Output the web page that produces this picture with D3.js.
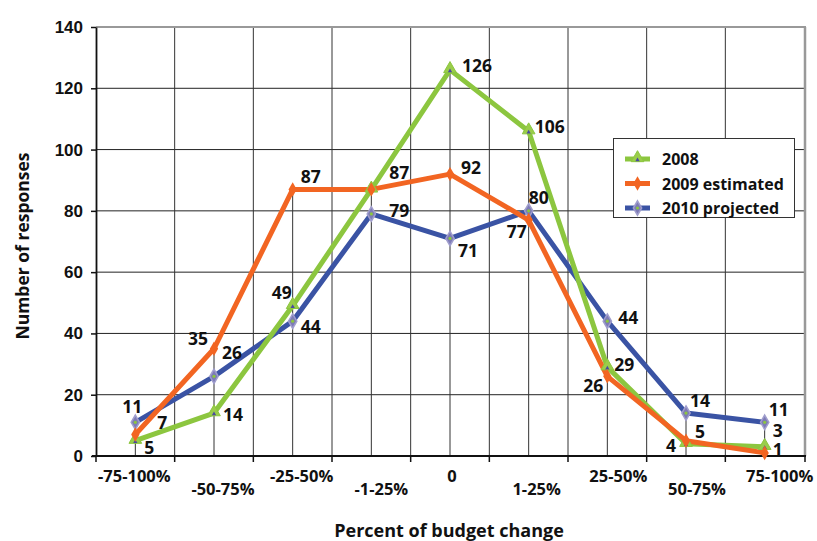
<!DOCTYPE html>
<html>
<head>
<meta charset="utf-8">
<script src="https://cdn.jsdelivr.net/npm/d3@7"></script>
<style>
  body { margin: 0; background: #fff; }
  svg { display: block; font-family: "Open Sans", "DejaVu Sans", sans-serif; }
</style>
</head>
<body>
<svg></svg>
<script>
// values
let categories = ['-75-100%', '-50-75%', '-25-50%', '-1-25%', '0', '1-25%', '25-50%', '50-75%', '75-100%']
let values2008 = [5, 14, 49, 87, 126, 106, 29, 4, 3]
let values2009 = [7, 35, 87, 87, 92, 77, 26, 5, 1]
let values2010 = [11, 26, 44, 79, 71, 80, 44, 14, 11]
let seriesNames = ['2008', '2009 estimated', '2010 projected']
let yTicks = [0, 20, 40, 60, 80, 100, 120, 140]

let width = 817
let height = 541
let plotLeft = 96
let plotRight = 805
let plotTop = 27
let plotBottom = 456

// label placement (dx, dy from the point, anchor) - layout only
let labelPos2008 = [[9, 13, 'start'], [9, 8, 'start'], [-1, -7, 'end'], [18, -10, 'start'], [12, 2, 'start'], [6, 2, 'start'], [7, 4, 'start'], [-10, 8, 'end'], [8, -10, 'start']]
let labelPos2009 = [[22, -6, 'start'], [-6, -4, 'end'], [8, -6, 'start'], null, [11, 0, 'start'], [-2, 18, 'end'], [-4, 16, 'end'], [9, -3, 'start'], [8, 3, 'start']]
let labelPos2010 = [[-3, -9, 'middle'], [8, -17, 'start'], [8, 12, 'start'], [18, 3, 'start'], [8, 19, 'start'], [0, -7, 'start'], [11, 3, 'start'], [4, -6, 'start'], [4, -6, 'start']]
let tickShift = [-1, 9, 9, 10, 2, 8, 11, 11, 15]

let svg = d3.select('svg').attr('width', width).attr('height', height)

let xScale = d3.scaleBand().domain(categories).range([plotLeft, plotRight - 1]).padding(0)
let yScale = d3.scaleLinear().domain([0, 140]).range([plotBottom, plotTop])
let xc = (c) => xScale(c) + xScale.bandwidth() / 2

let series = [
  { name: seriesNames[0], values: values2008, color: '#8cc63f', marker: 'triangle', labels: labelPos2008 },
  { name: seriesNames[1], values: values2009, color: '#f26522', marker: 'diamond', labels: labelPos2009 },
  { name: seriesNames[2], values: values2010, color: '#3a53a4', marker: 'diamondBlue', labels: labelPos2010 }
]

let drawGrid = () => {
  let g = svg.append('g')
  g.selectAll('line.h')
    .data(yTicks.filter(d => d > 0 && d < 140))
    .enter().append('line')
    .attr('x1', plotLeft).attr('x2', plotRight)
    .attr('y1', d => yScale(d)).attr('y2', d => yScale(d))
    .attr('stroke', '#222').attr('stroke-width', 1)

  let edges = categories.map(c => xScale(c)).slice(1)
  g.selectAll('line.v')
    .data(edges)
    .enter().append('line')
    .attr('x1', d => d).attr('x2', d => d)
    .attr('y1', plotTop).attr('y2', plotBottom)
    .attr('stroke', '#333').attr('stroke-width', 1)

  // drop lines from the highest point of each category
  g.selectAll('line.drop')
    .data(categories)
    .enter().append('line')
    .attr('x1', c => xc(c)).attr('x2', c => xc(c))
    .attr('y1', (c, i) => yScale(d3.max(series, s => s.values[i])))
    .attr('y2', plotBottom)
    .attr('stroke', '#333').attr('stroke-width', 1)

  // plot area border top / right
  g.append('line').attr('x1', plotLeft).attr('x2', plotRight + 1).attr('y1', plotTop).attr('y2', plotTop)
    .attr('stroke', '#999').attr('stroke-width', 2)
  g.append('line').attr('x1', plotRight).attr('x2', plotRight).attr('y1', plotTop).attr('y2', plotBottom)
    .attr('stroke', '#999').attr('stroke-width', 2.5)
}

let drawAxis = () => {
  let yAxis = d3.axisLeft(yScale).tickValues(yTicks).tickSize(5).tickSizeOuter(0).tickPadding(8)
  let gy = svg.append('g')
    .attr('transform', 'translate(' + plotLeft + ', 0)')
    .call(yAxis)
  gy.select('.domain').attr('stroke', '#111').attr('stroke-width', 1.8)
  gy.selectAll('.tick line').attr('stroke', '#111').attr('stroke-width', 1.5)
  gy.selectAll('.tick text')
    .attr('fill', '#111')
    .style('font-size', '17px')
    .style('font-weight', 700)

  // x axis line and ticks at band edges
  svg.append('line')
    .attr('x1', plotLeft - 4).attr('x2', plotRight + 1)
    .attr('y1', plotBottom).attr('y2', plotBottom)
    .attr('stroke', '#111').attr('stroke-width', 2)
  let edges = categories.map(c => xScale(c)).concat([plotRight])
  svg.selectAll('line.xtick')
    .data(edges)
    .enter().append('line')
    .attr('x1', d => d).attr('x2', d => d)
    .attr('y1', plotBottom).attr('y2', plotBottom + 6)
    .attr('stroke', '#111').attr('stroke-width', 1.5)

  svg.selectAll('text.xlabel')
    .data(categories)
    .enter().append('text')
    .attr('x', (c, i) => xc(c) + tickShift[i])
    .attr('y', (c, i) => i % 2 === 0 ? 482 : 495)
    .attr('text-anchor', 'middle')
    .attr('fill', '#111')
    .style('font-size', '16.5px')
    .style('font-weight', 700)
    .text(c => c)

  svg.append('text')
    .attr('x', 449)
    .attr('y', 537)
    .attr('text-anchor', 'middle')
    .attr('fill', '#111')
    .style('font-size', '18px')
    .style('font-weight', 700)
    .text('Percent of budget change')

  svg.append('text')
    .attr('transform', 'translate(29, 246) rotate(-90)')
    .attr('text-anchor', 'middle')
    .attr('fill', '#111')
    .style('font-size', '17.5px')
    .style('font-weight', 700)
    .text('Number of responses')
}

let drawMarker = (g, type, x, y) => {
  if (type === 'triangle') {
    g.append('path')
      .attr('d', d3.symbol(d3.symbolTriangle, 70)())
      .attr('transform', 'translate(' + x + ',' + (y - 1) + ')')
      .attr('fill', '#9acd4a').attr('stroke', '#8cc63f').attr('stroke-width', 1)
    g.append('path')
      .attr('d', d3.symbol(d3.symbolTriangle, 8)())
      .attr('transform', 'translate(' + x + ',' + (y + 1) + ')')
      .attr('fill', '#4a4aa0')
  } else if (type === 'diamond') {
    g.append('path')
      .attr('d', d3.symbol(d3.symbolDiamond, 60)())
      .attr('transform', 'translate(' + x + ',' + y + ')')
      .attr('fill', '#f26522')
  } else {
    g.append('path')
      .attr('d', d3.symbol(d3.symbolDiamond, 60)())
      .attr('transform', 'translate(' + x + ',' + y + ')')
      .attr('fill', '#7d7bb6').attr('stroke', '#a09ecd').attr('stroke-width', 1.5)
    g.append('circle')
      .attr('cx', x).attr('cy', y).attr('r', 1.6)
      .attr('fill', '#8cc63f')
  }
}

let drawLines = () => {
  let line = d3.line()
    .x((d, i) => xc(categories[i]))
    .y(d => yScale(d))

  // blue underneath, then green, orange on top
  let order = [series[2], series[0], series[1]]
  order.forEach(s => {
    svg.append('path')
      .datum(s.values)
      .attr('d', line)
      .attr('fill', 'none')
      .attr('stroke', s.color)
      .attr('stroke-width', 5)
      .attr('stroke-linejoin', 'round')
  })

  order.forEach(s => {
    let g = svg.append('g')
    s.values.forEach((v, i) => drawMarker(g, s.marker, xc(categories[i]), yScale(v)))
  })

  series.forEach(s => {
    svg.append('g').selectAll('text')
      .data(s.values.map((v, i) => ({ v: v, i: i, p: s.labels[i] })).filter(d => d.p))
      .enter().append('text')
      .attr('x', d => xc(categories[d.i]) + d.p[0])
      .attr('y', d => yScale(d.v) + d.p[1])
      .attr('text-anchor', d => d.p[2])
      .attr('fill', '#111')
      .style('font-size', '17.5px')
      .style('font-weight', 700)
      .text(d => d.v)
  })
}

let drawLegend = () => {
  let g = svg.append('g')
  g.append('rect')
    .attr('x', 613.5).attr('y', 138.5)
    .attr('width', 181).attr('height', 79)
    .attr('fill', '#fff').attr('stroke', '#333').attr('stroke-width', 1)

  series.forEach((s, i) => {
    let y = 159 + i * 24.5
    g.append('line')
      .attr('x1', 625).attr('x2', 650)
      .attr('y1', y).attr('y2', y)
      .attr('stroke', s.color).attr('stroke-width', 5)
    drawMarker(g, s.marker, 637.5, y)
    g.append('text')
      .attr('x', 662).attr('y', y + 6)
      .attr('fill', '#111')
      .style('font-size', '16px')
      .style('font-weight', 700)
      .text(s.name)
  })
}

drawGrid()
drawAxis()
drawLines()
drawLegend()
</script>
</body>
</html>
